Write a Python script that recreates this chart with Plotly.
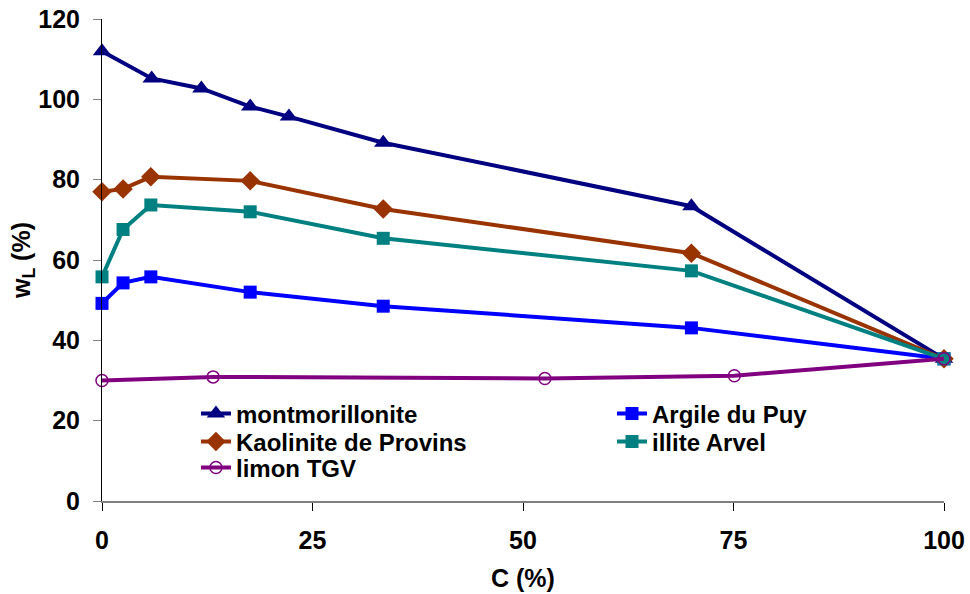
import plotly.graph_objects as go

# ---- data ----
c_mont = [0, 5.9, 11.8, 17.6, 22.2, 33.4, 70, 100]
wl_mont = [112.0, 105.2, 102.7, 98.2, 95.7, 89.2, 73.4, 35.4]

c_puy = [0, 2.5, 5.8, 17.6, 33.4, 70, 100]
wl_puy = [49.2, 54.3, 55.8, 52.0, 48.5, 43.1, 35.4]

c_kao = [0, 2.5, 5.8, 17.6, 33.4, 70, 100]
wl_kao = [77.0, 77.7, 80.7, 79.7, 72.7, 61.7, 35.4]

c_ill = [0, 2.5, 5.8, 17.6, 33.4, 70, 100]
wl_ill = [55.8, 67.6, 73.7, 72.0, 65.4, 57.3, 35.4]

c_lim = [0, 13.2, 52.6, 75.1, 100]
wl_lim = [30.0, 30.9, 30.5, 31.2, 35.4]

x_ticks = [0, 25, 50, 75, 100]
y_ticks = [0, 20, 40, 60, 80, 100, 120]

FONT = "Liberation Sans, Arial, sans-serif"

fig = go.Figure()

def add(name, xs, ys, color, symbol, size, legend, open_marker=False):
    marker = dict(symbol=symbol, size=size, color=color)
    if open_marker:
        marker = dict(symbol="circle-open", size=size, color=color, line=dict(width=1.5, color=color))
    fig.add_trace(go.Scatter(
        x=xs, y=ys, name=name, mode="lines+markers",
        line=dict(color=color, width=4),
        marker=marker, cliponaxis=False, legend=legend, showlegend=True,
    ))

add("montmorillonite", c_mont, wl_mont, "#000080", "triangle-up", 16, "legend")
add("Argile du Puy", c_puy, wl_puy, "#0000FF", "square", 13, "legend2")
add("Kaolinite de Provins", c_kao, wl_kao, "#993300", "diamond", 15, "legend3")
add("illite Arvel", c_ill, wl_ill, "#008080", "square", 13, "legend4")
add("limon TGV", c_lim, wl_lim, "#800080", "circle", 12, "legend5", open_marker=True)

legend_font = dict(family=FONT, size=24, color="black", weight="bold")

def leg(x, y):
    return dict(x=x, y=y, xanchor="left", yanchor="middle", visible=True,
                bgcolor="rgba(0,0,0,0)", font=legend_font, itemsizing="trace")

fig.update_layout(
    width=970, height=594,
    showlegend=True,
    margin=dict(l=102, r=26, t=19, b=93, autoexpand=False),
    plot_bgcolor="white", paper_bgcolor="white",
    font=dict(family=FONT, color="black"),
    legend=leg(0.1116, 0.1805),
    legend3=leg(0.1116, 0.1224),
    legend5=leg(0.1116, 0.0685),
    legend2=leg(0.6057, 0.1805),
    legend4=leg(0.6057, 0.1224),
    xaxis=dict(
        range=[0, 100], tickvals=x_ticks, ticktext=[str(v) for v in x_ticks],
        showgrid=False, zeroline=False, automargin=False,
        showline=True, linecolor="#808080", linewidth=2,
        ticks="outside", ticklen=8, tickcolor="black", tickwidth=1,
        tickfont=dict(family=FONT, size=25, color="black", weight="bold"),
        ticklabelstandoff=8,
        title=dict(text="C (%)", font=dict(family=FONT, size=25, color="black", weight="bold"),
                   standoff=16),
    ),
    yaxis=dict(
        range=[0, 120], tickvals=y_ticks, ticktext=[str(v) for v in y_ticks],
        showgrid=False, zeroline=False, automargin=False,
        showline=True, linecolor="black", linewidth=1,
        ticks="outside", ticklen=8, tickcolor="#808080", tickwidth=1,
        tickfont=dict(family=FONT, size=25, color="black", weight="bold"),
        ticklabelstandoff=8,
        title=dict(text="w<sub>L</sub> (%)", font=dict(family=FONT, size=25, color="black", weight="bold"),
                   standoff=0),
    ),
)

fig.write_html("out.html", config={"displayModeBar": False},
               post_script="document.body.style.margin='0px';")
